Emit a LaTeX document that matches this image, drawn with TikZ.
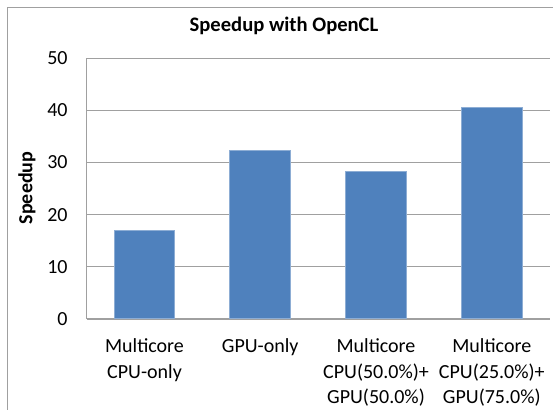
\documentclass[tikz,border=0pt]{standalone}
\usepackage{fontspec}
\setmainfont{Carlito}
\usetikzlibrary{positioning}
\definecolor{barblue}{HTML}{4F81BD}
\definecolor{framegray}{HTML}{A0A0A0}

\begin{document}
\begin{tikzpicture}[x=0.5pt,y=-0.5pt,
    bar/.style={fill=barblue,draw=barblue!65!white,line width=0.5pt},
    gridline/.style={draw=framegray,line width=0.6pt},
    ticklabel/.style={anchor=east,inner sep=0pt,font=\fontsize{10}{12}\selectfont},
    catlabel/.style={anchor=north,align=center,inner sep=0pt,font=\fontsize{10}{12.75}\selectfont}]
  \useasboundingbox (0,0) rectangle (553,410);

  % Chart frame
  \draw[framegray,line width=0.7pt] (7.3,420) -- (7.3,7.3) -- (560,7.3);

  % Title
  \node[anchor=base,inner sep=0pt,font=\fontsize{10.3}{12}\selectfont\bfseries] (title) at (284,31.5) {Speedup with OpenCL};

  % Grid and value axis
  \foreach \v in {0,10,...,50} {
    \draw[gridline] (86.5,{319-5.215*\v}) -- (550,{319-5.215*\v});
    \node[ticklabel] (tick\v) at (68,{319-5.215*\v}) {\v};
  }
  \draw[gridline] (86.5,58.25) -- (86.5,319);
  \node[rotate=90,inner sep=0pt,font=\fontsize{10}{12}\selectfont\bfseries] (ylabel) at (27,188) {Speedup};

  % Bars
  \foreach \cx/\val [count=\i] in {144.5/16.9, 260.2/32.3, 376/28.2, 491.8/40.6}
    \draw[bar] (\cx-30.25,319) rectangle (\cx+30.25,{319-5.215*\val});

  % Category labels
  \node[catlabel] (cpu) at (144.5,338.5) {Multicore\\CPU-only};
  \node[catlabel] (gpu) at (260.2,338.5) {GPU-only};
  \node[catlabel] (mix50) at (376,338.5) {Multicore\\CPU(50.0\%)+\\GPU(50.0\%)};
  \node[catlabel] (mix25) at (491.8,338.5) {Multicore\\CPU(25.0\%)+\\GPU(75.0\%)};
\end{tikzpicture}
\end{document}
